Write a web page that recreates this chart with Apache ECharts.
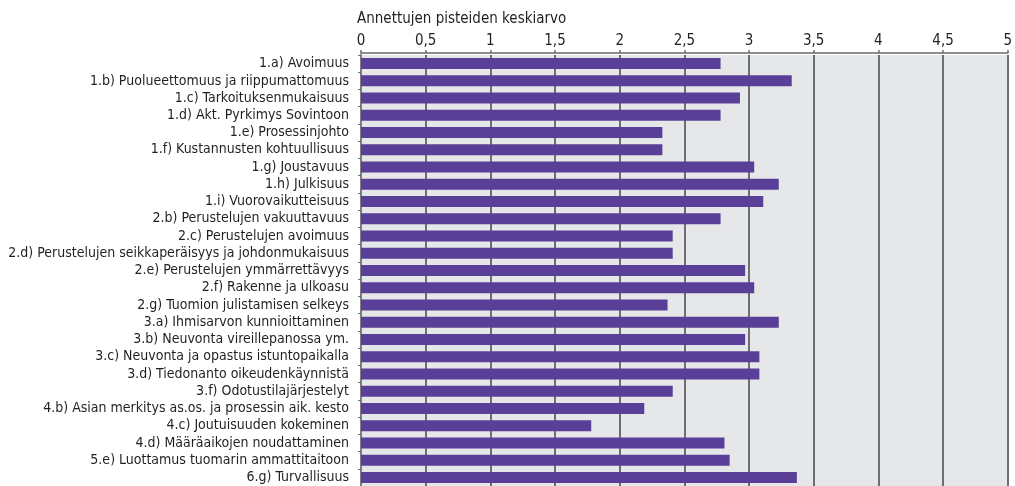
<!DOCTYPE html>
<html>
<head>
<meta charset="utf-8">
<script src="https://cdn.jsdelivr.net/npm/echarts@6/dist/echarts.min.js"></script>
<style>
  html, body { margin: 0; padding: 0; background: #ffffff; }
  #chart { width: 1015px; height: 486px; }
</style>
</head>
<body>
<div id="chart"></div>
<script>
// Arviointikohteet ja niille annettujen pisteiden keskiarvot
const categories = [
  '1.a) Avoimuus',
  '1.b) Puolueettomuus ja riippumattomuus',
  '1.c) Tarkoituksenmukaisuus',
  '1.d) Akt. Pyrkimys Sovintoon',
  '1.e) Prosessinjohto',
  '1.f) Kustannusten kohtuullisuus',
  '1.g) Joustavuus',
  '1.h) Julkisuus',
  '1.i) Vuorovaikutteisuus',
  '2.b) Perustelujen vakuuttavuus',
  '2.c) Perustelujen avoimuus',
  '2.d) Perustelujen seikkaperäisyys ja johdonmukaisuus',
  '2.e) Perustelujen ymmärrettävyys',
  '2.f) Rakenne ja ulkoasu',
  '2.g) Tuomion julistamisen selkeys',
  '3.a) Ihmisarvon kunnioittaminen',
  '3.b) Neuvonta vireillepanossa ym.',
  '3.c) Neuvonta ja opastus istuntopaikalla',
  '3.d) Tiedonanto oikeudenkäynnistä',
  '3.f) Odotustilajärjestelyt',
  '4.b) Asian merkitys as.os. ja prosessin aik. kesto',
  '4.c) Joutuisuuden kokeminen',
  '4.d) Määräaikojen noudattaminen',
  '5.e) Luottamus tuomarin ammattitaitoon',
  '6.g) Turvallisuus'
];

const averages = [
  2.78, 3.33, 2.93, 2.78, 2.33, 2.33, 3.04, 3.23, 3.11,
  2.78, 2.41, 2.41, 2.97, 3.04, 2.37,
  3.23, 2.97, 3.08, 3.08, 2.41,
  2.19, 1.78, 2.81,
  2.85,
  3.37
];

const axisTitle = 'Annettujen pisteiden keskiarvo';
const scaleMin = 0;
const scaleMax = 5;
const scaleStep = 0.5;

const FONT = '"Liberation Sans Narrow", "DejaVu Sans Condensed", "Roboto Condensed", sans-serif';
const TEXT = '#231f20';

const chart = echarts.init(document.getElementById('chart'), null, { renderer: 'canvas' });

chart.setOption({
  animation: false,
  backgroundColor: '#ffffff',
  title: {
    text: axisTitle,
    left: 357,
    top: 12,
    padding: 0,
    textStyle: { fontFamily: FONT, fontSize: 15, fontWeight: 'normal', color: TEXT }
  },
  grid: {
    left: 361,
    right: 1,
    top: 55,
    bottom: 0,
    show: true,
    backgroundColor: '#e6e7e9',
    borderWidth: 0
  },
  xAxis: {
    type: 'value',
    position: 'top',
    offset: 2,
    min: scaleMin,
    max: scaleMax,
    interval: scaleStep,
    axisLine: { show: true, lineStyle: { color: '#8e8f91', width: 2 } },
    axisTick: { show: true, length: 3, lineStyle: { color: '#6d6e71', width: 1.5 } },
    axisLabel: {
      margin: 4,
      fontFamily: FONT,
      fontSize: 15,
      color: TEXT,
      formatter: v => String(v).replace('.', ',')
    },
    splitLine: { show: true, lineStyle: { color: '#6d6e71', width: 2 } }
  },
  yAxis: {
    type: 'category',
    data: categories,
    inverse: true,
    axisLine: { show: true, lineStyle: { color: '#7d7e80', width: 2 } },
    axisTick: { show: true, length: 3, lineStyle: { color: '#6d6e71' } },
    axisLabel: {
      interval: 0,
      margin: 12,
      fontFamily: FONT,
      fontSize: 14,
      color: TEXT
    },
    splitLine: { show: false }
  },
  series: [{
    type: 'bar',
    data: averages,
    barWidth: 11,
    itemStyle: { color: '#5a3f99' },
    silent: true
  }]
});
</script>
</body>
</html>
